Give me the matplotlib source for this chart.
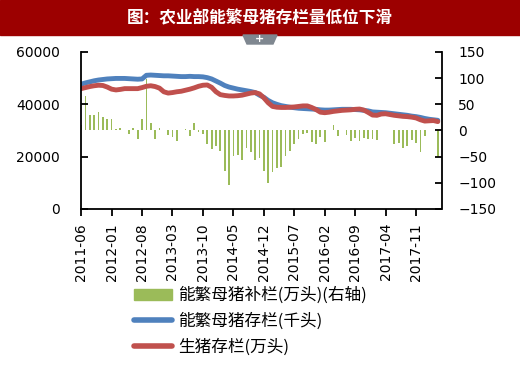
import matplotlib.pyplot as plt
import pandas as pd
from matplotlib.patches import Rectangle, Polygon, Patch
from matplotlib.lines import Line2D

title = '图：农业部能繁母猪存栏量低位下滑'
months = [p.strftime('%Y-%m') for p in pd.period_range('2011-06', '2018-04', freq='M')]

# 能繁母猪存栏 (千头)
sows = [47700, 48200, 48600, 49000, 49300, 49500, 49700, 49800, 49900, 49900,
        49900, 49800, 49700, 49600, 49700, 51100, 51200, 51100, 51000, 50900,
        50900, 50800, 50700, 50600, 50600, 50700, 50600, 50600, 50500, 50200,
        49700, 48900, 48100, 47200, 46600, 46200, 45800, 45500, 45200, 44900,
        44500, 43500, 42700, 41500, 40600, 40000, 39500, 39200, 38900, 38700,
        38500, 38400, 38300, 38200, 38100, 37900, 37800, 37800, 37900, 38000,
        38100, 38100, 38100, 38000, 37900, 37700, 37500, 37100, 37000, 36900,
        36800, 36600, 36400, 36200, 36000, 35800, 35500, 35300, 35000, 34600,
        34300, 34100, 33900]

# 生猪存栏 (万头)
hogs = [46000, 46400, 46800, 47100, 47300, 47200, 46600, 45800, 45500, 45700,
        46000, 46000, 46000, 46000, 46400, 46900, 47100, 46800, 46200, 44800,
        44300, 44500, 44800, 45000, 45400, 45800, 46300, 46900, 47300, 47400,
        46500, 44800, 43700, 43400, 43200, 43200, 43300, 43500, 43900, 44300,
        44500, 44000, 42500, 40600, 39200, 38900, 38800, 38800, 38900, 39000,
        39200, 39400, 39400, 38800, 38000, 37000, 36800, 37000, 37300, 37500,
        37700, 37800, 37900, 38100, 38200, 37800, 36900, 35900, 35800, 36300,
        36400, 36100, 35800, 35600, 35400, 35300, 35100, 34800, 34100, 33600,
        33700, 33800, 33400]

# 能繁母猪补栏 (万头, 右轴)
restock = [10, 66, 29, 29, 35, 25, 22, 22, 2, 5,
           0, -6, 5, -16, 22, 99, 15, -16, 5, 0,
           -8, -12, -21, 0, 2, -11, 15, -3, -7, -25,
           -35, -30, -40, -78, -105, -48, -47, -57, -34, -42,
           -57, -52, -77, -100, -80, -72, -70, -49, -40, -25,
           -17, -6, -4, -22, -25, -13, -22, 0, 11, -11,
           0, -8, -20, -14, -20, -14, -17, -17, -18, 0,
           0, 0, -26, -24, -33, -30, -18, -24, -42, -11,
           0, 0, -50]

legend_labels = ['能繁母猪补栏(万头)(右轴)', '能繁母猪存栏(千头)', '生猪存栏(万头)']

W, H = 520, 372
fig = plt.figure(figsize=(W / 100, H / 100), dpi=100)

# title banner
fig.patches.append(Rectangle((0, 1 - 35 / H), 1, 35 / H, transform=fig.transFigure,
                             color='#9C0000', zorder=0))
fig.text(0.5, 1 - 18 / H, title, color='white', fontsize=12, fontweight='bold',
         family='Noto Sans CJK SC', ha='center', va='center')
# small grey tab under the banner
tab = [(243 / W, 1 - 35 / H), (277 / W, 1 - 35 / H), (273 / W, 1 - 44 / H), (247 / W, 1 - 44 / H)]
fig.patches.append(Polygon(tab, closed=True, transform=fig.transFigure, color='#7F8790'))
fig.text(260 / W, 1 - 39.5 / H, '+', color='white', fontsize=8, fontweight='bold',
         ha='center', va='center')

ax = fig.add_axes([80.5 / W, 1 - 209 / H, 361 / W, 157 / H])
ax2 = ax.twinx()

x = list(range(len(months)))
ax2.bar(x, restock, width=0.4, color='#9BBB59')
ax.plot(x, sows, color='#4F81BD', lw=3.5, solid_capstyle='round')
ax.plot(x, hogs, color='#C0504D', lw=3.5, solid_capstyle='round')
ax.set_zorder(ax2.get_zorder() + 1)
ax.patch.set_visible(False)

ax.set_xlim(-0.15, 82.85)
ax.set_ylim(0, 60000)
ax.set_yticks(range(0, 60001, 20000))
ax2.set_ylim(-150, 150)
ax2.set_yticks(range(-150, 151, 50))
ax.set_xticks(x[::7])
ax.set_xticklabels(months[::7], rotation=90)

for s in ['top', 'right']:
    ax.spines[s].set_visible(False)
for s in ['top', 'left', 'bottom']:
    ax2.spines[s].set_visible(False)
for sp in [ax.spines['left'], ax.spines['bottom'], ax2.spines['right']]:
    sp.set_linewidth(1.3)

ax.tick_params(axis='y', direction='in', length=5, width=1.3, pad=15, labelsize=10)
ax.tick_params(axis='x', direction='out', length=5, width=1.3, pad=5, labelsize=10)
ax2.tick_params(axis='y', direction='in', length=5, width=1.3, pad=12, labelsize=10)
for lab in ax2.get_yticklabels():
    lab.set_ha('left')

handles = [Patch(color='#9BBB59'),
           Line2D([], [], color='#4F81BD', lw=4, solid_capstyle='round'),
           Line2D([], [], color='#C0504D', lw=4, solid_capstyle='round')]
fig.legend(handles, legend_labels, loc='upper left', bbox_to_anchor=(134 / W, 1 - 287 / H),
           frameon=False, prop={'family': 'Noto Sans CJK SC', 'size': 12},
           handlelength=2.3, handletextpad=0.35, labelspacing=0.5,
           borderpad=0, borderaxespad=0)

fig.savefig('out.png', dpi=100)
